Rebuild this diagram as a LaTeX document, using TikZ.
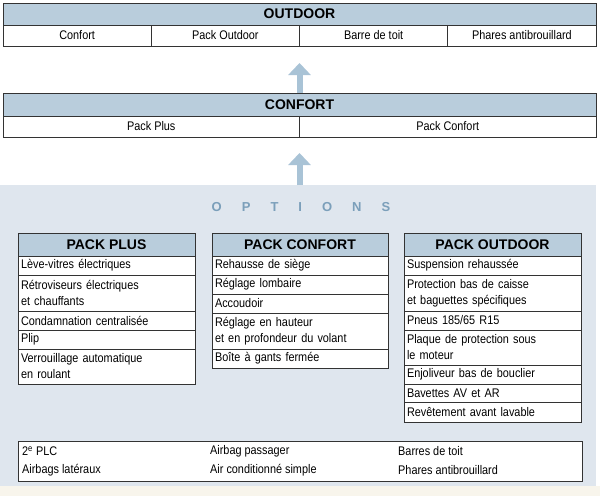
\documentclass[tikz,border=0pt]{standalone}
\usepackage{fontspec}
\setmainfont{Liberation Sans}
\newfontfamily\narrowfont[FakeStretch=0.87]{Liberation Sans}
\usepackage{xcolor}
\usetikzlibrary{arrows.meta, positioning}

\definecolor{hdrblue}{HTML}{B9CDDC}
\definecolor{arrowblue}{HTML}{A9C3D6}
\definecolor{bgblue}{HTML}{DFE6EE}
\definecolor{optblue}{HTML}{7B9FBA}
\definecolor{cream}{HTML}{F8F5EC}
\definecolor{linegray}{HTML}{333333}

\begin{document}
\begin{tikzpicture}[
        x=1pt, y=-1pt,
        box/.style={rectangle, draw=linegray, line width=0.9pt, inner sep=0pt, outer sep=0pt},
        hdr/.style={box, fill=hdrblue, anchor=north west, font=\bfseries\fontsize{14}{16}\selectfont},
        topcell/.style={box, fill=white, minimum height=21pt, align=center, font=\narrowfont\fontsize{12.5}{14}\selectfont},
        cell/.style={box, fill=white, inner xsep=3pt, align=left, font=\narrowfont\fontsize{12.5}{16}\selectfont},
        pcell/.style={cell, minimum width=177pt, text width=171pt},
        item/.style={anchor=west, inner sep=0pt, font=\narrowfont\fontsize{12.5}{14}\selectfont},
        bigarrow/.style={draw=arrowblue, line width=6pt, -{Triangle[width=22pt, length=12pt]}}
    ]
        \useasboundingbox (0,0) rectangle (600,496);

        % Options background
        \node[box, draw=none, fill=bgblue, anchor=north west, minimum width=596pt, minimum height=301pt] (optbg) at (0,185) {};
        \fill[cream] (0,486) rectangle (600,496);
        \node[font=\bfseries\fontsize{13}{15}\selectfont, text=optblue] (opt) at (301,207)
            {O\hspace{20pt}P\hspace{20pt}T\hspace{20pt}I\hspace{20pt}O\hspace{20pt}N\hspace{20pt}S};

        % Outdoor
        \node[hdr, minimum width=593pt, minimum height=22pt] (outd) at (3,3) {OUTDOOR};
        \node[topcell, anchor=north west, minimum width=148.25pt] (o1) at (3,25) {Confort};
        \node[topcell, right=0pt of o1, minimum width=148.25pt] (o2) {Pack Outdoor};
        \node[topcell, right=0pt of o2, minimum width=148.25pt] (o3) {Barre de toit};
        \node[topcell, right=0pt of o3, minimum width=148.25pt] (o4) {Phares antibrouillard};

        % Confort
        \node[hdr, minimum width=593pt, minimum height=23pt] (conf) at (3,93) {CONFORT};
        \node[topcell, anchor=north west, minimum width=296.5pt] (c1) at (3,116) {Pack Plus};
        \node[topcell, right=0pt of c1, minimum width=296.5pt] (c2) {Pack Confort};

        % Arrows
        \coordinate (tip1) at (299.5,63);
        \coordinate (tip2) at (299.5,153);
        \draw[bigarrow] (conf.north) -- (tip1);
        \draw[bigarrow] (tip2 |- optbg.north) -- (tip2);

        % Pack Plus
        \node[hdr, minimum width=177pt, minimum height=23pt] (plus) at (18,233) {PACK PLUS};
        \node[pcell, minimum height=19pt, below=0pt of plus] (plus1) {Lève-vitres électriques};
        \node[pcell, minimum height=36pt, below=0pt of plus1] (plus2) {Rétroviseurs électriques\\et chauffants};
        \node[pcell, minimum height=19pt, below=0pt of plus2] (plus3) {Condamnation centralisée};
        \node[pcell, minimum height=19pt, below=0pt of plus3] (plus4) {Plip};
        \node[pcell, minimum height=35pt, below=0pt of plus4] (plus5) {Verrouillage automatique\\en roulant};

        % Pack Confort
        \node[hdr, minimum width=176pt, minimum height=23pt] (pconf) at (212,233) {PACK CONFORT};
        \node[pcell, minimum width=176pt, text width=170pt, minimum height=19pt, below=0pt of pconf] (pconf1) {Rehausse de siège};
        \node[pcell, minimum width=176pt, text width=170pt, minimum height=19pt, below=0pt of pconf1] (pconf2) {Réglage lombaire};
        \node[pcell, minimum width=176pt, text width=170pt, minimum height=19pt, below=0pt of pconf2] (pconf3) {Accoudoir};
        \node[pcell, minimum width=176pt, text width=170pt, minimum height=36pt, below=0pt of pconf3] (pconf4) {Réglage en hauteur\\et en profondeur du volant};
        \node[pcell, minimum width=176pt, text width=170pt, minimum height=19pt, below=0pt of pconf4] (pconf5) {Boîte à gants fermée};

        % Pack Outdoor
        \node[hdr, minimum width=177pt, minimum height=23pt] (pout) at (404,233) {PACK OUTDOOR};
        \node[pcell, minimum height=19pt, below=0pt of pout] (pout1) {Suspension rehaussée};
        \node[pcell, minimum height=36pt, below=0pt of pout1] (pout2) {Protection bas de caisse\\et baguettes spécifiques};
        \node[pcell, minimum height=19pt, below=0pt of pout2] (pout3) {Pneus 185/65 R15};
        \node[pcell, minimum height=35pt, below=0pt of pout3] (pout4) {Plaque de protection sous\\le moteur};
        \node[pcell, minimum height=19pt, below=0pt of pout4] (pout5) {Enjoliveur bas de bouclier};
        \node[pcell, minimum height=18pt, below=0pt of pout5] (pout6) {Bavettes AV et AR};
        \node[pcell, minimum height=20pt, below=0pt of pout6] (pout7) {Revêtement avant lavable};

        % Standard equipment
        \node[box, fill=white, anchor=north west, minimum width=564pt, minimum height=40pt] (misc) at (18,441) {};
        \node[item] (m1) at (22,451) {2\textsuperscript{e} PLC};
        \node[item] (m2) at (22,470) {Airbags latéraux};
        \node[item] (m3) at (210,451) {Airbag passager};
        \node[item] (m4) at (210,470) {Air conditionné simple};
        \node[item] (m5) at (398,451) {Barres de toit};
        \node[item] (m6) at (398,470) {Phares antibrouillard};
    \end{tikzpicture}
\end{document}
